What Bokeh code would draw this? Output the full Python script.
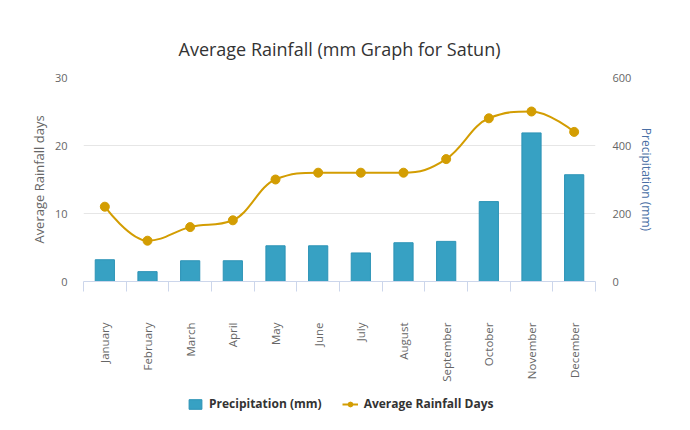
import numpy as np
from bokeh.plotting import figure
from bokeh.layouts import column
from bokeh.models import (Range1d, LinearAxis, FixedTicker, Legend, LegendItem, Grid)
from bokeh.embed import file_html
from bokeh.resources import INLINE

months = ["January", "February", "March", "April", "May", "June", "July",
          "August", "September", "October", "November", "December"]
precip_mm = [64, 29, 61, 61, 105, 105, 84, 114, 118, 235, 437, 314]
rain_days = [11, 6, 8, 9, 15, 16, 16, 16, 18, 24, 25, 22]
days_ticks = [0, 10, 20, 30]
mm_ticks = [0, 200, 400, 600]

BAR = "#37a1c3"
BAR_LINE = "#2c93b6"
GOLD = "#d39d02"
FONT = "Open Sans"

xc = list(range(len(months)))


def spline_controls(xs, ys, smoothing=1.5):
    n = len(xs)
    lcx, lcy = list(xs), list(ys)
    rcx, rcy = list(xs), list(ys)
    d = smoothing + 1
    for i in range(1, n - 1):
        px, py = xs[i], ys[i]
        lx, ly = xs[i - 1], ys[i - 1]
        nx, ny = xs[i + 1], ys[i + 1]
        a_x = (smoothing * px + lx) / d
        a_y = (smoothing * py + ly) / d
        b_x = (smoothing * px + nx) / d
        b_y = (smoothing * py + ny) / d
        corr = ((b_y - a_y) * (b_x - px)) / (b_x - a_x) + py - b_y
        a_y += corr
        b_y += corr
        if a_y > ly and a_y > py:
            a_y = max(ly, py); b_y = 2 * py - a_y
        elif a_y < ly and a_y < py:
            a_y = min(ly, py); b_y = 2 * py - a_y
        if b_y > ny and b_y > py:
            b_y = max(ny, py); a_y = 2 * py - b_y
        elif b_y < ny and b_y < py:
            b_y = min(ny, py); a_y = 2 * py - b_y
        lcx[i], lcy[i], rcx[i], rcy[i] = a_x, a_y, b_x, b_y
    seg = dict(x0=xs[:-1], y0=ys[:-1], x1=xs[1:], y1=ys[1:],
               cx0=rcx[:-1], cy0=rcy[:-1], cx1=lcx[1:], cy1=lcy[1:])
    return seg


p = figure(frame_width=512, frame_height=204, output_backend="svg", toolbar_location=None,
           x_range=Range1d(-0.5, len(months) - 0.5), y_range=Range1d(0, 30),
           x_axis_location=None, y_axis_location=None,
           title="Average Rainfall (mm Graph for Satun)")
p.extra_y_ranges = {"mm": Range1d(0, 600)}
p.min_border_left = 83
p.min_border_right = 95
p.min_border_top = 77
p.min_border_bottom = 0
p.outline_line_color = None
p.background_fill_color = "white"
p.xgrid.visible = False
p.ygrid.visible = False

p.title.align = "center"
p.title.text_font = FONT
p.title.text_font_size = "18px"
p.title.text_font_style = "normal"
p.title.text_color = "#333333"
p.title.standoff = 33

p.add_layout(Grid(dimension=1, ticker=FixedTicker(ticks=days_ticks),
                  grid_line_color="#e6e6e6", grid_line_width=1))

def style_y(ax, color):
    ax.axis_line_color = None
    ax.major_tick_line_color = None
    ax.minor_tick_line_color = None
    ax.major_label_text_font = FONT
    ax.major_label_text_font_size = "11px"
    ax.major_label_text_color = "#666666"
    ax.axis_label_text_font = FONT
    ax.axis_label_text_font_style = "normal"
    ax.axis_label_text_color = color

yl = LinearAxis(ticker=FixedTicker(ticks=days_ticks), axis_label="Average Rainfall days")
style_y(yl, "#666666")
yl.axis_label_text_font_size = "13px"
yl.major_label_standoff = 10
yl.axis_label_standoff = 4
p.add_layout(yl, "left")

yr = LinearAxis(y_range_name="mm", ticker=FixedTicker(ticks=mm_ticks), axis_label="Precipitation (mm)")
style_y(yr, "#4a6fa5")
yr.axis_label_text_font_size = "12px"
yr.major_label_standoff = 11
yr.axis_label_standoff = 4
p.add_layout(yr, "right")

bounds = [i - 0.5 for i in range(len(months) + 1)]
xa = LinearAxis(ticker=FixedTicker(ticks=xc, minor_ticks=bounds),
                major_label_overrides={i: m for i, m in enumerate(months)})
xa.axis_line_color = "#ccd6eb"
xa.major_tick_line_color = None
xa.major_tick_in = 0
xa.major_tick_out = 0
xa.minor_tick_line_color = "#ccd6eb"
xa.minor_tick_in = 0
xa.minor_tick_out = 10
xa.major_label_orientation = np.pi / 2
xa.major_label_text_font = FONT
xa.major_label_text_font_size = "11.5px"
xa.major_label_text_color = "#666666"
xa.major_label_standoff = 31
p.add_layout(xa, "below")

bars = p.vbar(x=xc, top=precip_mm, width=0.45, y_range_name="mm",
              fill_color=BAR, line_color=BAR_LINE, line_width=1)

seg = spline_controls([float(v) for v in xc], [float(v) for v in rain_days])
curve = p.bezier(**seg, line_color=GOLD, line_width=2)
dots = p.scatter(x=xc, y=rain_days, size=9, fill_color=GOLD, line_color=GOLD)

# legend strip below the chart: same series, hidden, so only legend keys show
lp = figure(width=674, height=40, output_backend="svg", toolbar_location=None,
            x_range=Range1d(-3, -2), y_range=Range1d(-3, -2),
            x_axis_location=None, y_axis_location=None, min_border=0)
lp.outline_line_color = None
lp.xgrid.visible = False
lp.ygrid.visible = False
lbar = lp.vbar(x=xc, top=precip_mm, width=0.45, fill_color=BAR, line_color=BAR_LINE, line_width=1)
lcurve = lp.line(x=xc, y=rain_days, line_color=GOLD, line_width=2)
ldots = lp.scatter(x=xc, y=rain_days, size=9, fill_color=GOLD, line_color=GOLD)
for r in (lbar, lcurve, ldots):
    r.visible = False

legend = Legend(items=[LegendItem(label="Precipitation (mm)", renderers=[lbar]),
                       LegendItem(label="Average Rainfall Days", renderers=[lcurve, ldots])],
                orientation="horizontal", location=(104, 12))
legend.click_policy = "none"
legend.inactive_fill_alpha = 0
legend.border_line_color = None
legend.background_fill_alpha = 0
legend.label_text_font = FONT
legend.label_text_font_size = "12px"
legend.label_text_font_style = "bold"
legend.label_text_color = "#333333"
legend.glyph_width = 16
legend.glyph_height = 12
legend.label_standoff = 6
legend.spacing = 20
legend.padding = 0
legend.margin = 0
lp.add_layout(legend, "center")

layout = column(p, lp, spacing=0)
open("out.html", "w").write(file_html(layout, INLINE))
